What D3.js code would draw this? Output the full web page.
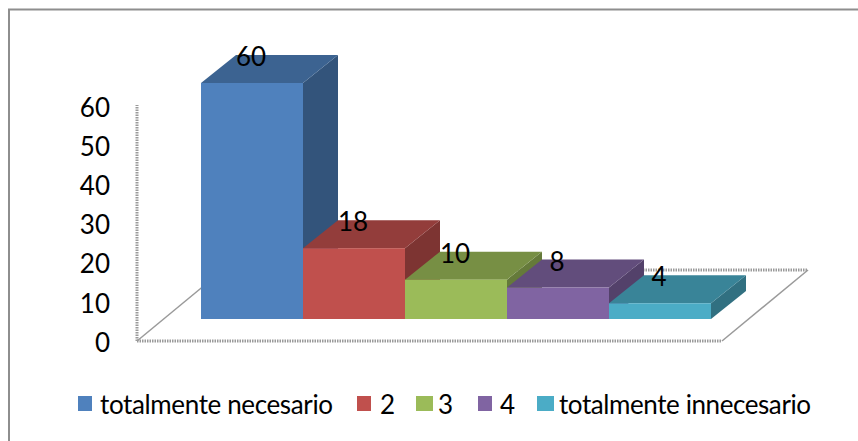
<!DOCTYPE html>
<html>
<head>
<meta charset="utf-8">
<script src="https://cdn.jsdelivr.net/npm/d3@7"></script>
<style>
  html, body { margin: 0; padding: 0; background: #fff; }
  text { font-family: Lato, "Open Sans", sans-serif; fill: #000; }
</style>
</head>
<body>
<div id="chart"></div>
<script>
var categories = ["totalmente necesario", "2", "3", "4", "totalmente innecesario"];
var values = [60, 18, 10, 8, 4];
var tickValues = [0, 10, 20, 30, 40, 50, 60];
var colors = ["#4F81BD", "#C0504D", "#9BBB59", "#8064A2", "#4BACC6"];

var width = 858, height = 441;
// depth of the fake 3d
var depthX = 35, depthY = 28;

var svg = d3.select("#chart").append("svg")
    .attr("width", width)
    .attr("height", height)
    .style("display", "block");

// outer frame, open at the bottom and right like the source
svg.append("path")
    .attr("d", d3.line()([[9, 441], [9, 9.5], [858, 9.5]]))
    .attr("fill", "none")
    .attr("stroke", "#8e8e8e")
    .attr("stroke-width", 2);

var x = d3.scaleBand().domain(categories).range([201, 711]);
var y = d3.scaleLinear().domain([0, 60]).range([319, 83]);
var yAxisScale = d3.scaleLinear().domain([0, 60]).range([341, 106]);

// floor and back wall lines
var wall = svg.append("g")
    .attr("fill", "none")
    .attr("stroke", "#9a9a9a")
    .attr("stroke-width", 3)
    .attr("stroke-dasharray", "1.5,1");

wall.append("path")
    .attr("d", d3.line()([[137, 341], [722, 341]]));
wall.append("path")
    .attr("d", d3.line()([[223, 270], [808, 270]]));
wall.append("path")
    .attr("d", d3.line()([[137, 341], [137, 105]]));

var diag = svg.append("g")
    .attr("fill", "none")
    .attr("stroke", "#9a9a9a")
    .attr("stroke-width", 1.5);

diag.append("path").attr("d", d3.line()([[137, 341], [223, 270]]));
diag.append("path").attr("d", d3.line()([[722, 341], [808, 270]]));

// y axis
var yAxis = d3.axisLeft(yAxisScale)
    .tickValues(tickValues)
    .tickSize(0)
    .tickPadding(0);

var axisG = svg.append("g")
    .attr("transform", "translate(110,2)")
    .call(yAxis);
axisG.select(".domain").remove();
axisG.selectAll("text")
    .style("font-family", "Lato, sans-serif")
    .attr("font-size", 26);

// bars, left to right so the later ones cover the side of the previous
var bars = svg.selectAll(".bar")
    .data(categories)
  .enter().append("g")
    .attr("class", "bar");

bars.append("path")
    .attr("fill", function(d, i) { return d3.rgb(colors[i]).darker(1.2); })
    .attr("d", function(d, i) {
      var x1 = x(d) + x.bandwidth();
      return d3.line()([[x1, y(values[i])], [x1 + depthX, y(values[i]) - depthY],
        [x1 + depthX, y(0) - depthY], [x1, y(0)]]) + "Z";
    });

bars.append("path")
    .attr("fill", function(d, i) { return d3.rgb(colors[i]).darker(0.75); })
    .attr("d", function(d, i) {
      var x0 = x(d), x1 = x0 + x.bandwidth(), t = y(values[i]);
      return d3.line()([[x0, t], [x0 + depthX, t - depthY], [x1 + depthX, t - depthY], [x1, t]]) + "Z";
    });

bars.append("rect")
    .attr("x", function(d) { return x(d); })
    .attr("y", function(d, i) { return y(values[i]); })
    .attr("width", x.bandwidth())
    .attr("height", function(d, i) { return y(0) - y(values[i]); })
    .attr("fill", function(d, i) { return colors[i]; });

// value labels
svg.selectAll(".val")
    .data(values)
  .enter().append("text")
    .attr("class", "val")
    .attr("x", function(d, i) { return x(categories[i]) + x.bandwidth() / 2 - 1; })
    .attr("y", function(d) { return y(d) - depthY + 2; })
    .attr("dy", ".35em")
    .attr("text-anchor", "middle")
    .attr("font-size", 26)
    .text(function(d) { return d; });

// legend
var legendSwatchX = [78, 357, 416, 478, 537];
var legendSwatchW = [14, 14, 17, 14, 17];
var legendTextX = [100, 380, 438, 500, 559];
var legendTextW = [233, 13, 13, 14, 252];

var legend = svg.selectAll(".legend")
    .data(categories)
  .enter().append("g")
    .attr("class", "legend");

legend.append("rect")
    .attr("x", function(d, i) { return legendSwatchX[i]; })
    .attr("y", 396)
    .attr("width", function(d, i) { return legendSwatchW[i]; })
    .attr("height", 15)
    .attr("fill", function(d, i) { return colors[i]; });

legend.append("text")
    .attr("x", function(d, i) { return legendTextX[i]; })
    .attr("y", 414)
    .attr("font-size", 26)
    .attr("textLength", function(d, i) { return legendTextW[i]; })
    .attr("lengthAdjust", "spacing")
    .text(function(d) { return d; });
</script>
</body>
</html>
